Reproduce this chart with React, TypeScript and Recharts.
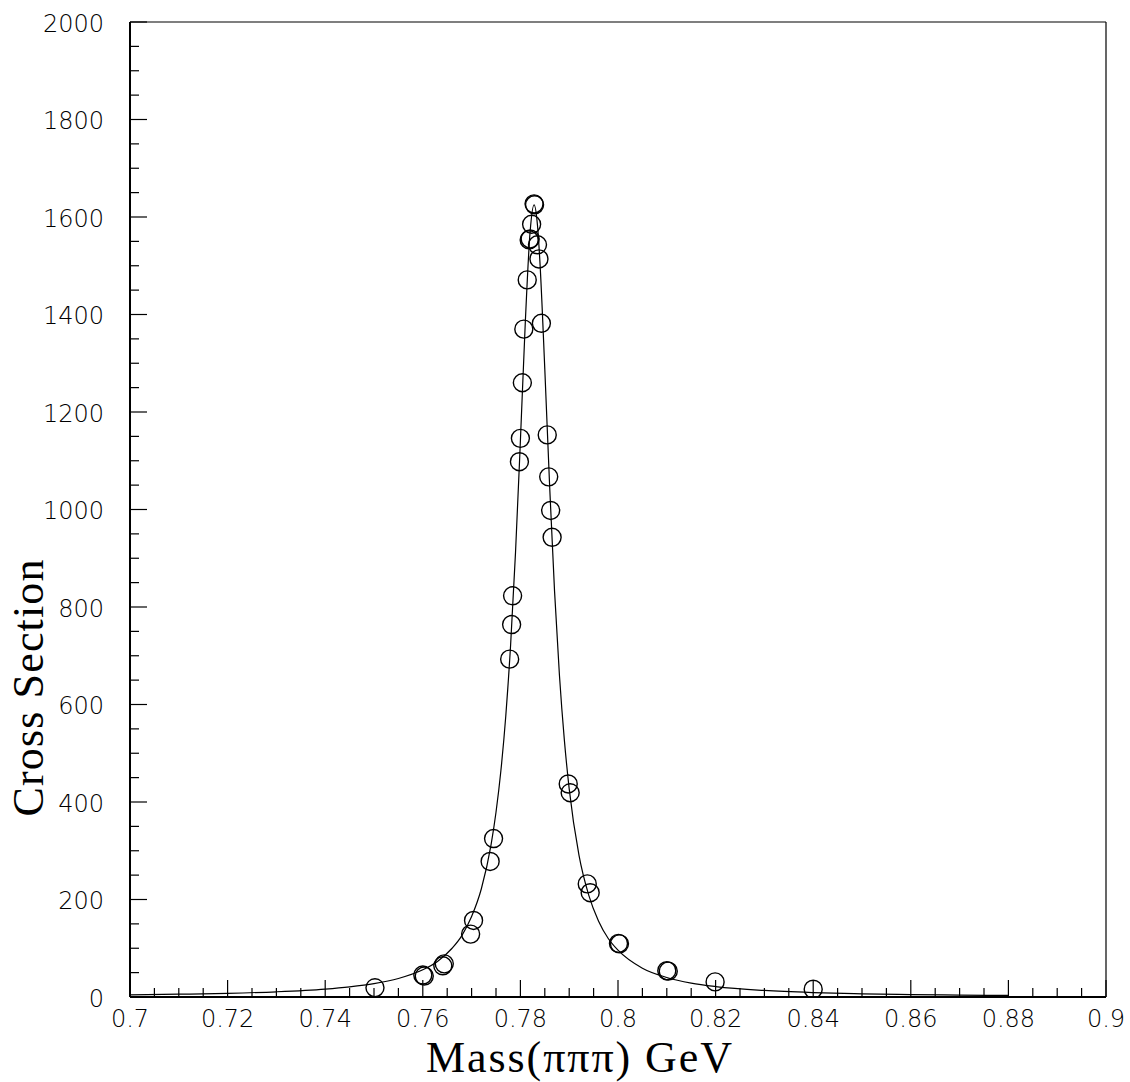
import { ComposedChart, Line, Scatter, XAxis, YAxis, ReferenceLine } from "recharts";

// measured points (mass in GeV, cross section)
const massPoints = [
  0.7502, 0.76, 0.7603, 0.7641, 0.7644, 0.7698, 0.7704, 0.7738, 0.7745, 0.7778,
  0.7782, 0.7784, 0.7798, 0.78, 0.7804, 0.7807, 0.7814, 0.7818, 0.782, 0.7823,
  0.7828, 0.7829, 0.7835, 0.7838, 0.7843, 0.7855, 0.7858, 0.7862, 0.7865, 0.7898,
  0.7902, 0.7937, 0.7943, 0.8001, 0.8003, 0.81, 0.8103, 0.8199, 0.84,
];
const crossSection = [
  19, 45, 43, 64, 68, 129, 157, 278, 325, 693,
  764, 823, 1098, 1146, 1260, 1370, 1471, 1553, 1555, 1585,
  1627, 1625, 1543, 1514, 1382, 1153, 1067, 998, 943, 437,
  419, 232, 214, 110, 109, 54, 53, 31, 16,
];

// fitted curve
const fitMass = [
  0.7, 0.71, 0.72, 0.73, 0.74, 0.745, 0.75, 0.755, 0.76, 0.763,
  0.766, 0.768, 0.77, 0.772, 0.774, 0.775, 0.776, 0.777, 0.778, 0.779,
  0.78, 0.781, 0.782, 0.7828, 0.7835, 0.784, 0.785, 0.786, 0.787, 0.788,
  0.789, 0.79, 0.792, 0.794, 0.796, 0.798, 0.8, 0.805, 0.81, 0.815,
  0.82, 0.83, 0.84, 0.85, 0.86, 0.87, 0.88,
];
const fitValues = [
  4.4, 5.7, 7.6, 10.7, 16.2, 20.8, 27.4, 38, 55.8, 73,
  100, 126, 165, 222, 313, 379, 464, 576, 723, 912,
  1141, 1383, 1571, 1625, 1583, 1508, 1288, 1046, 832, 660,
  528, 427, 291, 209, 156, 120, 96, 59, 40, 28.5,
  21.4, 13.4, 9.1, 6.6, 5, 3.9, 3.2,
];

const xLabels = [0.7, 0.72, 0.74, 0.76, 0.78, 0.8, 0.82, 0.84, 0.86, 0.88, 0.9];
const yLabels = [0, 200, 400, 600, 800, 1000, 1200, 1400, 1600, 1800, 2000];

const xTicks: number[] = [];
for (let i = 0; i < xLabels.length - 1; i++) {
  for (let k = 0; k < 4; k++) xTicks.push(+(xLabels[i] + k * 0.005).toFixed(3));
}
xTicks.push(xLabels[xLabels.length - 1]);
const yTicks: number[] = [];
for (let i = 0; i < yLabels.length - 1; i++) {
  for (let k = 0; k < 4; k++) yTicks.push(yLabels[i] + k * 50);
}
yTicks.push(yLabels[yLabels.length - 1]);

const points = massPoints.map((x, i) => ({ x, y: crossSection[i] }));
const fit = fitMass.map((x, i) => ({ x, y: fitValues[i] }));

const numFont = "'DejaVu Sans', sans-serif";
const titleFont = "'Liberation Serif', 'Times New Roman', serif";

function XTick(props: any) {
  const { x, y, payload } = props;
  const v = payload.value;
  const major = xLabels.some((l) => Math.abs(l - v) < 1e-6);
  return (
    <g>
      <line x1={x} x2={x} y1={y} y2={y - (major ? 17 : 9)} stroke="#000" strokeWidth={1.2} />
      {major && (
        <text x={x} y={y + 30} textAnchor="middle" fontFamily={numFont} fontWeight={200} fontSize={24} fill="#000">
          {String(v)}
        </text>
      )}
    </g>
  );
}

function YTick(props: any) {
  const { x, y, payload } = props;
  const v = payload.value;
  const major = yLabels.includes(v);
  return (
    <g>
      <line x1={x} x2={x + (major ? 17 : 9)} y1={y} y2={y} stroke="#000" strokeWidth={1.2} />
      {major && (
        <text x={x - 26} y={y + 9.5} textAnchor="end" fontFamily={numFont} fontWeight={200} fontSize={24} fill="#000">
          {v}
        </text>
      )}
    </g>
  );
}

const ring = (p: any) => (
  <circle cx={p.cx} cy={p.cy} r={9} fill="none" stroke="#000" strokeWidth={1.4} />
);

export default function App() {
  return (
    <div style={{ position: "absolute", left: 0, top: 0, width: 1130, height: 1082, background: "#fff" }}>
      <ComposedChart width={1130} height={1082} margin={{ top: 22, right: 24, bottom: 25, left: 10 }}>
        <XAxis
          type="number"
          dataKey="x"
          domain={[0.7, 0.9]}
          ticks={xTicks}
          interval={0}
          tickSize={0}
          tickMargin={0}
          tickLine={false}
          tick={<XTick />}
          height={60}
          allowDataOverflow
          axisLine={{ stroke: "#000", strokeWidth: 2 }}
        />
        <YAxis
          type="number"
          dataKey="y"
          domain={[0, 2000]}
          ticks={yTicks}
          interval={0}
          tickSize={0}
          tickMargin={0}
          tickLine={false}
          tick={<YTick />}
          width={120}
          allowDataOverflow
          axisLine={{ stroke: "#000", strokeWidth: 2 }}
        />
        <ReferenceLine y={2000} stroke="#000" strokeWidth={1.2} />
        <ReferenceLine x={0.9} stroke="#000" strokeWidth={1.2} />
        <Line
          data={fit}
          dataKey="y"
          type="monotone"
          stroke="#000"
          strokeWidth={1.2}
          dot={false}
          isAnimationActive={false}
        />
        <Scatter data={points} dataKey="y" shape={ring} isAnimationActive={false} />
      </ComposedChart>
      <svg width={1130} height={1082} style={{ position: "absolute", left: 0, top: 0, pointerEvents: "none" }}>
        <text
          x={579}
          y={1072}
          textAnchor="middle"
          fontFamily={titleFont}
          fontSize={44}
          textLength={306}
          lengthAdjust="spacing"
          fill="#000"
        >
          Mass(πππ) GeV
        </text>
        <text
          transform="translate(43,688) rotate(-90)"
          textAnchor="middle"
          fontFamily={titleFont}
          fontSize={44}
          textLength={257}
          lengthAdjust="spacing"
          fill="#000"
        >
          Cross Section
        </text>
      </svg>
    </div>
  );
}
